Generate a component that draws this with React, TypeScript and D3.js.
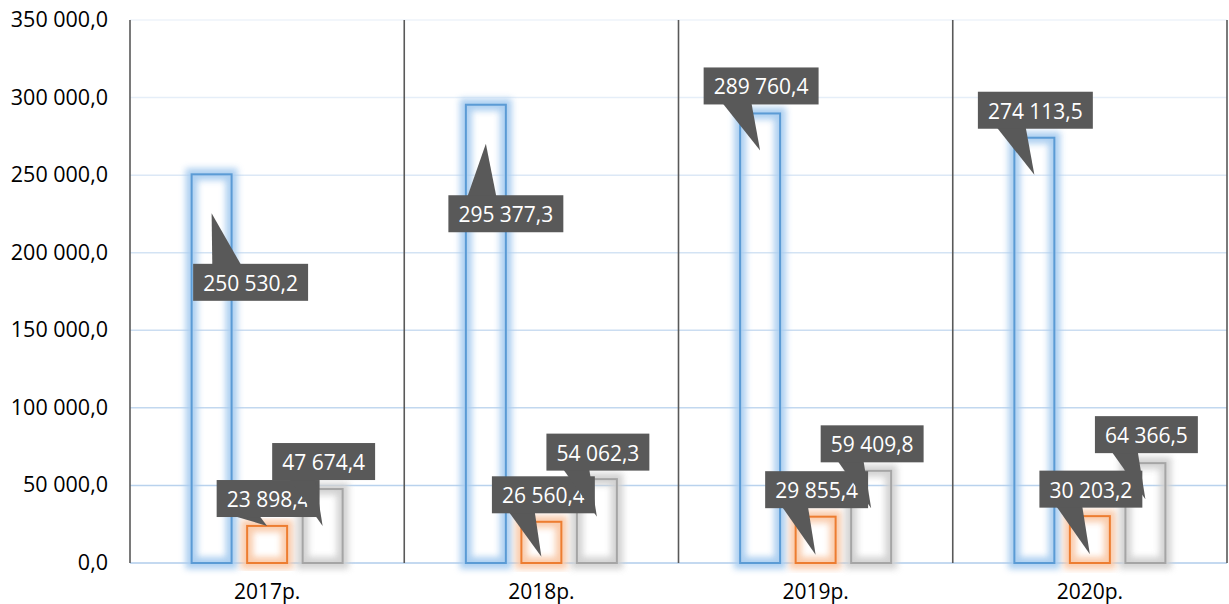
import React, { useEffect, useRef } from 'react';
import * as d3 from 'd3';

// chart data
const years = ['2017р.', '2018р.', '2019р.', '2020р.'];
const blueValues = [250530.2, 295377.3, 289760.4, 274113.5];
const orangeValues = [23898.4, 26560.4, 29855.4, 30203.2];
const grayValues = [47674.4, 54062.3, 59409.8, 64366.5];
const yTicks = [0, 50000, 100000, 150000, 200000, 250000, 300000, 350000];

// callout box centre, relative to the pointer tip (layout only)
const calloutShift = [
  [[39, 69], [20, 70], [1, -64.5], [1, -64.5]],
  [[1, -27.4], [2, -62], [1, -65], [1, -65]],
  [[1, -64.5], [1, -64.5], [1, -64.5], [1, -64.5]],
];
// how far below the bar top the pointer ends
const tipDrop = [
  [39, 39, 37, 37],
  [0, 35, 38, 38],
  [37, 37.5, 37.5, 36],
];

const W = 1229;
const H = 604;
const margin = { left: 130, right: 2, top: 20, bottom: 41 };

const colors = ['#5b9bd5', '#ed7d31', '#a5a5a5'];
const glows = ['#a9cdf0', '#f9c9a8', '#d0d0d0'];

const locale = d3.formatLocale({
  decimal: ',', thousands: ' ', grouping: [3], currency: ['', ''],
});
const fmt = locale.format(',.1f');

export default function App() {
  const ref = useRef<SVGSVGElement>(null);

  useEffect(() => {
    const svg = d3.select(ref.current);
    svg.selectAll('*').remove();

    const series = [blueValues, orangeValues, grayValues];

    const x = d3.scaleBand<string>()
      .domain(years)
      .range([margin.left, W - margin.right])
      .padding(0);
    const inner = d3.scaleBand<number>()
      .domain([0, 1, 2])
      .range([0, x.bandwidth()])
      .paddingInner(0.28)
      .paddingOuter(1.11);
    const y = d3.scaleLinear()
      .domain([0, 350000])
      .range([H - margin.bottom, margin.top]);

    const defs = svg.append('defs');
    colors.forEach((c, i) => {
      defs.append('filter')
        .attr('id', `glow${i}`)
        .attr('x', '-50%').attr('y', '-20%')
        .attr('width', '200%').attr('height', '140%')
        .append('feGaussianBlur')
        .attr('stdDeviation', 3.2);
    });

    svg.append('rect').attr('width', W).attr('height', H).attr('fill', '#fff');

    // gridlines, fading towards the top
    const gridColor = d3.interpolateRgb('#b0cdeb', '#eef3fa');
    svg.append('g')
      .selectAll('line')
      .data(yTicks)
      .join('line')
      .attr('x1', margin.left)
      .attr('x2', W - margin.right)
      .attr('y1', (d) => y(d))
      .attr('y2', (d) => y(d))
      .attr('stroke', (d) => gridColor(d / 350000))
      .attr('stroke-width', 1.5);

    // y labels
    svg.append('g')
      .selectAll('text')
      .data(yTicks)
      .join('text')
      .attr('x', 108)
      .attr('y', (d) => y(d) + 7)
      .attr('text-anchor', 'end')
      .attr('font-family', 'Open Sans')
      .attr('font-size', 21.5)
      .attr('fill', '#000')
      .text((d) => fmt(d));

    // category separators
    const seps = years.map((d) => x(d) as number).concat([W - margin.right]);
    svg.append('g')
      .selectAll('line')
      .data(seps)
      .join('line')
      .attr('x1', (d) => d)
      .attr('x2', (d) => d)
      .attr('y1', margin.top)
      .attr('y2', H - margin.bottom)
      .attr('stroke', '#595959')
      .attr('stroke-width', 1.6);

    // category labels
    svg.append('g')
      .selectAll('text')
      .data(years)
      .join('text')
      .attr('x', (d) => (x(d) as number) + x.bandwidth() / 2)
      .attr('y', 599)
      .attr('text-anchor', 'middle')
      .attr('font-family', 'Open Sans')
      .attr('font-size', 21)
      .attr('fill', '#000')
      .text((d) => d);

    // bars
    series.forEach((vals, si) => {
      const g = svg.append('g');
      const bx = (i: number) => (x(years[i]) as number) + (inner(si) as number);
      g.selectAll('rect.glow')
        .data(vals)
        .join('rect')
        .attr('class', 'glow')
        .attr('x', (d, i) => bx(i))
        .attr('y', (d) => y(d))
        .attr('width', inner.bandwidth())
        .attr('height', (d) => y(0) - y(d))
        .attr('fill', 'none')
        .attr('stroke', glows[si])
        .attr('stroke-width', 12)
        .attr('opacity', 0.95)
        .attr('filter', `url(#glow${si})`);
      g.selectAll('rect.bar')
        .data(vals)
        .join('rect')
        .attr('class', 'bar')
        .attr('x', (d, i) => bx(i))
        .attr('y', (d) => y(d))
        .attr('width', inner.bandwidth())
        .attr('height', (d) => y(0) - y(d))
        .attr('fill', 'none')
        .attr('stroke', colors[si])
        .attr('stroke-width', 2);
    });

    // callouts
    const boxH = 37;
    series.forEach((vals, si) => {
      vals.forEach((v, i) => {
        const tx = (x(years[i]) as number) + (inner(si) as number) + inner.bandwidth() / 2;
        const ty = y(v) + tipDrop[si][i];
        const [sx, sy] = calloutShift[si][i];
        const g = svg.append('g');
        const wedge = g.append('path').attr('fill', '#595959');
        const rect = g.append('rect').attr('fill', '#595959');
        const label = g.append('text')
          .attr('text-anchor', 'middle')
          .attr('font-family', 'Open Sans')
          .attr('font-size', 21)
          .attr('fill', '#fff')
          .text(fmt(v));
        const tw = (label.node() as SVGTextElement).getComputedTextLength();
        const bw = tw + 20;
        const cx = tx + sx;
        const cy = ty + sy;
        const bxl = cx - bw / 2;
        const byt = cy - boxH / 2;
        rect.attr('x', bxl).attr('y', byt).attr('width', bw).attr('height', boxH);
        label.attr('x', cx).attr('y', byt + 27);

        // wedge like the office wedgeRectCallout
        const dxPos = tx - cx;
        const dyPos = ty - cy;
        const dz = Math.abs(dyPos) - Math.abs((dxPos * boxH) / bw);
        let p;
        if (dz > 0) {
          const ey = dyPos > 0 ? byt + boxH - 1 : byt + 1;
          const x1 = bxl + (bw * (dxPos > 0 ? 7 : 2)) / 12;
          const x2 = bxl + (bw * (dxPos > 0 ? 10 : 5)) / 12;
          p = `M${x1},${ey}L${tx},${ty}L${x2},${ey}Z`;
        } else {
          const ex = dxPos > 0 ? bxl + bw - 1 : bxl + 1;
          const y1 = byt + (boxH * (dyPos > 0 ? 7 : 2)) / 12;
          const y2 = byt + (boxH * (dyPos > 0 ? 10 : 5)) / 12;
          p = `M${ex},${y1}L${tx},${ty}L${ex},${y2}Z`;
        }
        wedge.attr('d', p);
      });
    });
  }, []);

  return (
    <svg
      ref={ref}
      width={W}
      height={H}
      style={{ position: 'absolute', left: 0, top: 0 }}
    />
  );
}
